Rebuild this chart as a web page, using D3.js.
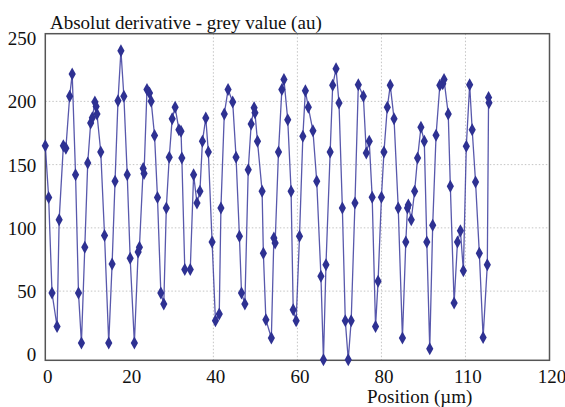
<!DOCTYPE html>
<html lang="en">
<head>
    <meta charset="UTF-8">
    <title>Absolut derivative</title>
    <script src="https://cdn.jsdelivr.net/npm/d3@7/dist/d3.min.js"></script>
    <style>
        body { margin: 0; background: #fff; }
        svg text { font-family: 'Liberation Serif', 'Times New Roman', Times, serif !important; fill: #111; }
        .grid line { stroke: #c4c4c4; stroke-dasharray: 1.5,2; }
    </style>
</head>
<body>
    <script>
        // position (µm) and absolut derivative (au)
        var positions = [0, 0.8, 1.6, 2.8, 3.3, 4.3, 4.9, 5.8, 6.4, 7.2, 7.9, 8.6, 9.4, 10.1, 10.8, 11.2, 11.8, 12.1, 12.3, 13.2,
            14.1, 15.1, 15.9, 16.6, 17.3, 18.0, 18.7, 19.5, 20.2, 21.2, 22.1, 22.4, 23.3, 23.5, 24.2, 24.8, 25.2, 26.0, 26.7, 27.5,
            28.2, 28.8, 29.5, 30.2, 30.9, 31.8, 32.3, 32.5, 33.2, 34.5, 35.3, 36.1, 36.8, 37.4, 38.2, 38.8, 39.7, 40.5, 41.4, 41.8,
            42.6, 43.5, 44.6, 45.4, 46.2, 46.7, 47.5, 48.3, 49.0, 49.7, 49.9, 50.5, 51.6, 51.9, 52.5, 53.8, 54.4, 54.7, 55.5, 56.3,
            56.8, 57.7, 58.5, 59.0, 59.7, 60.5, 61.3, 61.9, 62.6, 63.7, 64.6, 65.6, 66.2, 66.8, 67.8, 68.4, 69.2, 69.9, 70.7, 71.4,
            72.1, 72.8, 73.7, 74.5, 75.7, 76.4, 77.1, 77.8, 78.6, 79.2, 80.0, 80.6, 81.4, 82.1, 83.0, 84.0, 85.0, 85.8, 86.2, 86.4,
            87.1, 87.9, 88.6, 89.4, 90.2, 90.8, 91.5, 92.2, 93.0, 93.9, 94.6, 94.9, 95.9, 96.4, 97.3, 98.1, 98.8, 99.5, 100.2, 101.0,
            101.6, 102.4, 103.3, 104.2, 105.2, 105.5, 105.6];
        var values = [165, 124, 48.5, 22, 106.5, 165, 163, 204, 221.6, 142, 48.5, 9, 84.6, 151.3, 183, 187, 199.5, 196, 190, 160,
            94, 9, 71.4, 136.8, 200.5, 240, 204, 142, 76, 9, 81, 84.6, 147, 143, 209.3, 206.6, 200, 173, 124, 48.5,
            39.8, 115.7, 155.8, 186.3, 195.3, 177.6, 176.3, 155.2, 67, 67, 142, 119.6, 128.9, 168.4, 186.9, 160, 88.8, 26.6, 31.9, 115.7,
            190, 209.3, 199.5, 155.8, 93.3, 48.5, 39.8, 146, 182.1, 195, 191, 168.4, 128.9, 79.9, 27.4, 12.9, 92, 88, 160, 209.3,
            217.2, 185.5, 128.9, 35.3, 26.6, 93.3, 172.4, 208.4, 195.3, 176.8, 136.8, 61.7, -4.3, 70.9, 160, 212.7, 225.8, 198.7, 115.7, 26.6,
            -4.3, 26.6, 119.6, 213.2, 204, 159.2, 168.4, 124.2, 22.1, 57.7, 124.2, 160, 195.3, 212.7, 186.3, 115.7, 12.9, 88.8, 115.7, 118,
            106.5, 128.9, 155.2, 179.5, 168.4, 88.8, 4.4, 102, 173.2, 212.7, 214, 217.2, 190, 132.8, 40.6, 88.8, 97.7, 66.1, 164.5, 213.2,
            177.6, 136.2, 79.9, 13.4, 70.9, 203, 199];

        var xTicks = [0, 20, 40, 60, 80, 100, 120];
        var xTickLabels = ["0", "20", "40", "60", "80", "110", "120"];
        var yTicks = [0, 50, 100, 150, 200, 250];
        var xGrid = [40, 60, 80, 100];
        var yGrid = [50, 100, 150, 200];

        var data = positions.map(function(p, i) { return {x: p, y: values[i]}; });

        var svg = d3.select("body").append("svg")
            .attr("width", 565)
            .attr("height", 407);

        var x = d3.scaleLinear().domain([0, 120]).range([45.3, 549.5]);
        var y = d3.scaleLinear().domain([-4.7, 253.5]).range([360.3, 33.7]);

        // grid
        svg.append("g").attr("class", "grid")
            .selectAll("line").data(xGrid).enter().append("line")
            .attr("x1", d => x(d)).attr("x2", d => x(d))
            .attr("y1", y.range()[1]).attr("y2", y.range()[0]);
        svg.append("g").attr("class", "grid")
            .selectAll("line").data(yGrid).enter().append("line")
            .attr("x1", x.range()[0]).attr("x2", x.range()[1])
            .attr("y1", d => y(d)).attr("y2", d => y(d));

        // axes (labels only, frame drawn below)
        var xAxis = svg.append("g")
            .attr("transform", "translate(2," + (y.range()[0] + 5) + ")")
            .call(d3.axisBottom(x).tickValues(xTicks).tickSize(0)
                .tickFormat((d, i) => xTickLabels[i]));
        var yAxis = svg.append("g")
            .attr("transform", "translate(" + (x.range()[0] - 6) + ",0)")
            .call(d3.axisLeft(y).tickValues(yTicks).tickSize(0));
        [xAxis, yAxis].forEach(function(a) {
            a.attr("font-family", null).attr("font-size", 19);
            a.select(".domain").remove();
            a.selectAll("text").attr("fill", "#111");
        });
        xAxis.selectAll("text").attr("dy", "0.78em");
        yAxis.selectAll("text").attr("dy", "0.34em");

        svg.append("rect")
            .attr("x", x.range()[0]).attr("y", y.range()[1])
            .attr("width", x.range()[1] - x.range()[0])
            .attr("height", y.range()[0] - y.range()[1])
            .attr("fill", "none")
            .attr("stroke", "#555")
            .attr("stroke-width", 1.5);

        // series
        var line = d3.line().x(d => x(d.x)).y(d => y(d.y));
        svg.append("path")
            .datum(data)
            .attr("d", line)
            .attr("fill", "none")
            .attr("stroke", "#3b3b9e")
            .attr("stroke-opacity", 0.85)
            .attr("stroke-width", 1.3);

        svg.append("g").selectAll("path")
            .data(data).enter().append("path")
            .attr("transform", d => "translate(" + x(d.x) + "," + y(d.y) + ")")
            .attr("d", "M0,-6.5L3.6,0L0,6.5L-3.6,0Z")
            .attr("fill", "#2e3192");

        // titles
        svg.append("text")
            .attr("x", 50).attr("y", 29)
            .attr("font-size", 19)
            .text("Absolut derivative - grey value (au)");
        svg.append("text")
            .attr("x", 367).attr("y", 403)
            .attr("font-size", 19)
            .text("Position (µm)");
    </script>
</body>
</html>
